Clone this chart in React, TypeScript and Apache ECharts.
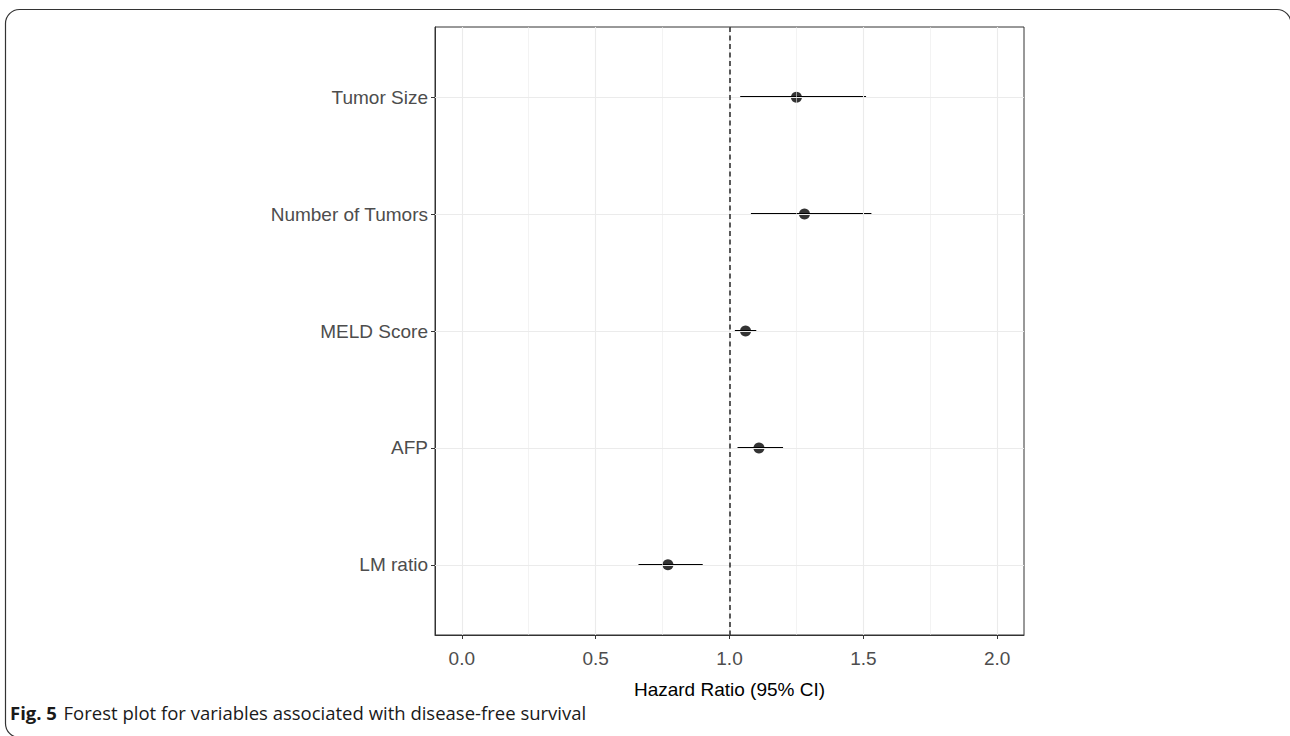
import React, { useEffect, useRef } from "react";
import * as echarts from "echarts";

const categories = ["Tumor Size", "Number of Tumors", "MELD Score", "AFP", "LM ratio"];
const hazardRatio = [1.25, 1.28, 1.06, 1.11, 0.77];
const ciLow = [1.04, 1.08, 1.02, 1.03, 0.66];
const ciHigh = [1.51, 1.53, 1.1, 1.2, 0.9];
const xTicks = [0, 0.5, 1, 1.5, 2];
const xMinor = [0.25, 0.75, 1.25, 1.75];
const refValue = 1;
const yPositions = [1, 2, 3, 4, 5];

const AXIS_FONT = "'Liberation Sans', Arial, sans-serif";

const FRAME_PATH =
  "M 19.5 737.5 A 14 14 0 0 1 5.5 723.5 L 5.5 23.5 A 14 14 0 0 1 19.5 9.5 L 1277 9.5 A 14 14 0 0 1 1291 23.5";

let frameRegistered = false;
function registerFrame() {
  if (frameRegistered) return;
  echarts.graphic.registerShape("frame", echarts.graphic.extendPath(FRAME_PATH, {}) as any);
  frameRegistered = true;
}

export default function App() {
  const ref = useRef<HTMLDivElement>(null);
  useEffect(() => {
    if (!ref.current) return;
    registerFrame();
    const chart = echarts.init(ref.current, null, { renderer: "svg" });
    const gridLine = (color: string, width: number) => ({ color, width, type: "solid" as const });
    const option: any = {
      animation: false,
      backgroundColor: "#ffffff",
      grid: {
        left: 435,
        top: 27,
        width: 589,
        height: 608,
        show: true,
        borderColor: "#333333",
        borderWidth: 1,
        backgroundColor: "transparent",
      },
      xAxis: {
        type: "value",
        min: -0.1,
        max: 2.1,
        axisLine: { show: true, onZero: false, lineStyle: { color: "#333333", width: 1 } },
        splitLine: { show: false },
        axisTick: { show: true, customValues: xTicks, length: 4, lineStyle: { color: "#333333", width: 1 } },
        axisLabel: {
          customValues: xTicks,
          formatter: (v: number) => v.toFixed(1),
          color: "#4D4D4D",
          fontSize: 19,
          fontFamily: AXIS_FONT,
          margin: 14,
        },
        name: "Hazard Ratio (95% CI)",
        nameLocation: "middle",
        nameGap: 45,
        nameTextStyle: { color: "#000000", fontSize: 19, fontFamily: AXIS_FONT },
      },
      yAxis: {
        type: "value",
        inverse: true,
        min: 0.4,
        max: 5.6,
        axisLine: { show: true, onZero: false, lineStyle: { color: "#333333", width: 1 } },
        splitLine: { show: false },
        axisTick: { show: true, customValues: yPositions, length: 4, lineStyle: { color: "#333333", width: 1 } },
        axisLabel: {
          customValues: yPositions,
          formatter: (v: number) => categories[Math.round(v) - 1] ?? "",
          color: "#4D4D4D",
          fontSize: 19,
          fontFamily: AXIS_FONT,
          margin: 7,
        },
      },
      series: [
        {
          type: "scatter",
          data: [],
          z: 1,
          silent: true,
          markLine: {
            silent: true,
            symbol: ["none", "none"],
            label: { show: false },
            animation: false,
            data: [
              ...xMinor.map((v) => ({ xAxis: v, lineStyle: gridLine("#EBEBEB", 0.6) })),
              ...xTicks.map((v) => ({ xAxis: v, lineStyle: gridLine("#EBEBEB", 1.1) })),
              ...yPositions.map((v) => ({ yAxis: v, lineStyle: gridLine("#EBEBEB", 1.1) })),
            ],
          },
        },
        {
          type: "scatter",
          data: [],
          z: 2,
          silent: true,
          markLine: {
            silent: true,
            symbol: ["none", "none"],
            label: { show: false },
            animation: false,
            data: [{ xAxis: refValue, lineStyle: { color: "#333333", width: 1.6, type: [5, 3.5] } }],
          },
        },
        {
          type: "custom",
          z: 3,
          silent: true,
          data: categories.map((_, i) => [ciLow[i], ciHigh[i], yPositions[i]]),
          encode: { x: [0, 1], y: 2 },
          renderItem: (_params: any, api: any) => {
            const p1 = api.coord([api.value(0), api.value(2)]);
            const p2 = api.coord([api.value(1), api.value(2)]);
            const y = Math.round(p1[1]);
            return {
              type: "line",
              shape: { x1: p1[0], y1: y, x2: p2[0], y2: y },
              style: { stroke: "#000000", lineWidth: 2 },
            };
          },
        },
        {
          type: "scatter",
          z: 4,
          silent: true,
          symbol: "circle",
          symbolSize: 11,
          itemStyle: { color: "#000000" },
          data: hazardRatio.map((v, i) => [v, yPositions[i]]),
        },
      ],
      graphic: [
        {
          type: "frame",
          silent: true,
          x: 0,
          y: 0,
          style: { fill: "none", stroke: "#333333", lineWidth: 1.2 },
          z: 0,
        },
        {
          type: "text",
          silent: true,
          x: 10,
          y: 712,
          style: {
            text: "{b|Fig. 5}  {r|Forest plot for variables associated with disease-free survival}",
            verticalAlign: "middle",
            rich: {
              b: { fontFamily: "'Open Sans', sans-serif", fontWeight: "bold", fontSize: 18.5, fill: "#1a1a1a" },
              r: { fontFamily: "'Open Sans', sans-serif", fontSize: 18.5, fill: "#1a1a1a" },
            },
          },
        },
      ],
    };
    chart.setOption(option);
    return () => chart.dispose();
  }, []);
  return (
    <div
      ref={ref}
      style={{ position: "absolute", left: 0, top: 0, width: 1290, height: 736 }}
    />
  );
}
